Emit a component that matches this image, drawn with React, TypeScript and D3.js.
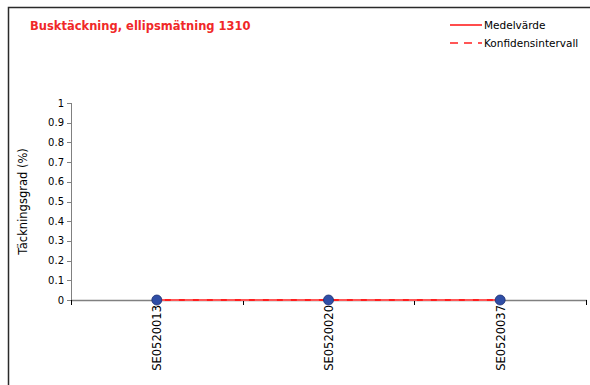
import * as d3 from "d3";

// --- Data ---
const categories = ["SE0520013", "SE0520020", "SE0520037"];
const medelvarde = [0, 0, 0];
const konfLow = [0, 0, 0];
const konfHigh = [0, 0, 0];
const yTicks = [0, 0.1, 0.2, 0.3, 0.4, 0.5, 0.6, 0.7, 0.8, 0.9, 1];

const TITLE = "Busktäckning, ellipsmätning 1310";
const Y_LABEL = "Täckningsgrad (%)";
const LEGEND_ITEMS = [
  { label: "Medelvärde", dash: "none" },
  { label: "Konfidensintervall", dash: "8,6" },
];

const W = 590;
const H = 385;
const FONT = "'DejaVu Sans', Verdana, sans-serif";
const PLOT = { left: 71, right: 586, top: 103, bottom: 300 };
const AXIS_COLOR = "#808080";
const RED = "#ff1f1f";

export default function App() {
  const x = d3
    .scaleBand<string>()
    .domain(categories)
    .range([PLOT.left, PLOT.right]);
  const y = d3.scaleLinear().domain([0, 1]).range([PLOT.bottom, PLOT.top]);
  const cx = (i: number) => (x(categories[i]) ?? 0) + x.bandwidth() / 2;

  const line = d3
    .line<number>()
    .x((_, i) => cx(i))
    .y((d) => y(d));

  const bounds = categories.map((c) => x(c) ?? 0).concat([PLOT.right]);

  return (
    <svg
      width={W}
      height={H}
      style={{ position: "absolute", left: 0, top: 0, background: "#fff" }}
      fontFamily={FONT}
    >
      {/* ram */}
      <rect
        x={8.5}
        y={7.5}
        width={590}
        height={400}
        fill="#fff"
        stroke="#2a2a2a"
        strokeWidth={1.5}
      />

      <text x={30} y={30} fontSize={11.5} fontWeight="bold" fill="#f02828">
        {TITLE}
      </text>

      {/* legend */}
      {LEGEND_ITEMS.map((it, i) => {
        const ly = 25 + i * 18;
        return (
          <g key={it.label}>
            <path
              d={`M450,${ly}H482`}
              fill="none"
              style={{ stroke: RED, strokeWidth: 1.6 }}
              strokeDasharray={it.dash}
            />
            <text x={484} y={ly + 4} fontSize={10.5} fill="#000">
              {it.label}
            </text>
          </g>
        );
      })}

      {/* y axis */}
      <line
        x1={PLOT.left + 0.5}
        x2={PLOT.left + 0.5}
        y1={y(1)}
        y2={y(0)}
        stroke={AXIS_COLOR}
      />
      {yTicks.map((t) => (
        <g key={t}>
          <line
            x1={PLOT.left - 4}
            x2={PLOT.left}
            y1={Math.round(y(t)) + 0.5}
            y2={Math.round(y(t)) + 0.5}
            stroke={AXIS_COLOR}
          />
          <text
            x={PLOT.left - 7}
            y={y(t) + 3.5}
            fontSize={10}
            textAnchor="end"
            fill="#000"
          >
            {t}
          </text>
        </g>
      ))}
      <text
        transform={`translate(27,${(PLOT.top + PLOT.bottom) / 2}) rotate(-90)`}
        fontSize={11.5}
        textAnchor="middle"
        fill="#000"
      >
        {Y_LABEL}
      </text>

      {/* x axis */}
      <line
        x1={PLOT.left}
        x2={PLOT.right + 1}
        y1={y(0) + 0.5}
        y2={y(0) + 0.5}
        stroke={AXIS_COLOR}
        strokeWidth={1.5}
      />
      {bounds.map((b, i) => (
        <line
          key={i}
          x1={Math.round(b) + 0.5}
          x2={Math.round(b) + 0.5}
          y1={y(0)}
          y2={y(0) + 5}
          stroke="#000"
        />
      ))}
      {categories.map((c, i) => (
        <text
          key={c}
          transform={`translate(${cx(i) + 4.5},${y(0) + 5}) rotate(-90)`}
          fontSize={11.5}
          textAnchor="end"
          fill="#000"
        >
          {c}
        </text>
      ))}

      {/* series */}
      <path
        d={line(medelvarde) ?? ""}
        fill="none"
        stroke={RED}
        strokeWidth={2}
      />
      {[konfLow, konfHigh].map((s, k) => (
        <path
          key={k}
          d={line(s) ?? ""}
          fill="none"
          stroke="#ff6a6a"
          strokeWidth={1}
          strokeDasharray="8,6"
        />
      ))}
      {medelvarde.map((v, i) => (
        <circle
          key={i}
          cx={cx(i)}
          cy={y(v)}
          r={5}
          fill="#2f4ea6"
          stroke="#1c2f72"
          strokeWidth={0.8}
        />
      ))}
    </svg>
  );
}
